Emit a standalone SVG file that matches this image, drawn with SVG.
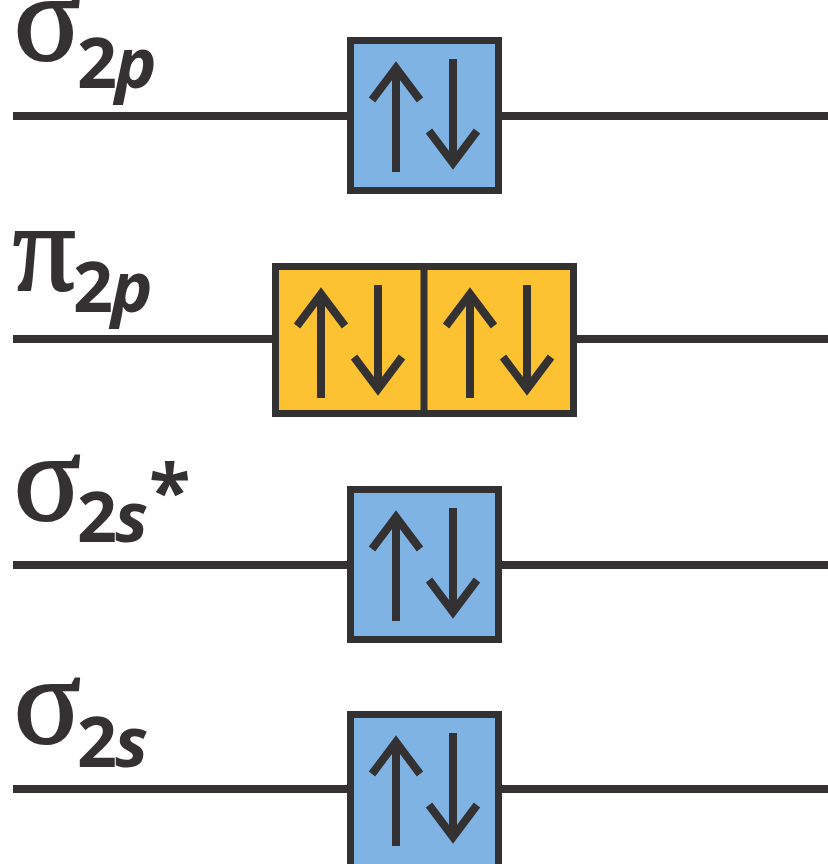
<svg xmlns="http://www.w3.org/2000/svg" xmlns:xlink="http://www.w3.org/1999/xlink" width="828" height="864" viewBox="0 0 828 864">
  <style>
    .level { stroke: #343132; stroke-width: 8; }
    .box { stroke: #343132; stroke-width: 7; }
    .sigma { fill: #7fb3e4; }
    .pi { fill: #fdc231; }
    .spin { fill: none; stroke: #343132; stroke-width: 8; stroke-linejoin: miter; stroke-miterlimit: 10; }
    .greek { font-family: "Liberation Serif", "DejaVu Serif", serif; font-size: 124px; fill: #343132; stroke: #343132; stroke-width: 2.2px; }
    .sub { font-family: "Open Sans", "Liberation Sans", sans-serif; font-weight: bold; font-size: 70px; letter-spacing: -2px; fill: #343132; }
    .it { font-style: italic; }
  </style>
  <defs>
    <!-- one paired orbital: spin-up and spin-down arrows, local to the box corner -->
    <g id="pair">
      <path class="spin" d="M49,135 V31 M25,63 L49,31 L73,63"/>
      <path class="spin" d="M106,22 V126 M82,94 L106,126 L130,94"/>
    </g>
  </defs>

  <!-- energy levels -->
  <g id="connectors">
    <line class="level" x1="13" y1="116" x2="828" y2="116"/>
    <line class="level" x1="13" y1="339" x2="828" y2="339"/>
    <line class="level" x1="13" y1="565" x2="828" y2="565"/>
    <line class="level" x1="13" y1="789" x2="828" y2="789"/>
  </g>

  <g id="sigma2p">
    <rect class="box sigma" x="350.5" y="40.5" width="148" height="150"/>
    <use xlink:href="#pair" x="347" y="37"/>
    <text class="greek" x="14" y="60">σ</text>
    <text class="sub" x="77" y="88">2<tspan class="it">p</tspan></text>
  </g>

  <g id="pi2p">
    <rect class="box pi" x="275.5" y="266.5" width="298" height="147"/>
    <line class="box" x1="424" y1="266.5" x2="424" y2="413.5"/>
    <use xlink:href="#pair" x="272" y="263"/>
    <use xlink:href="#pair" x="421" y="263"/>
    <text class="greek" x="13" y="290">π</text>
    <text class="sub" x="73" y="312">2<tspan class="it">p</tspan></text>
  </g>

  <g id="sigma2s-star">
    <rect class="box sigma" x="350.5" y="489.5" width="148" height="150"/>
    <use xlink:href="#pair" x="347" y="486"/>
    <text class="greek" x="14" y="520">σ</text>
    <text class="sub" x="77" y="542">2<tspan class="it">s</tspan></text>
    <text class="sub" x="149" y="518" style="font-size:76px">*</text>
  </g>

  <g id="sigma2s">
    <rect class="box sigma" x="350.5" y="714.5" width="148" height="160"/>
    <use xlink:href="#pair" x="347" y="711"/>
    <text class="greek" x="14" y="743">σ</text>
    <text class="sub" x="77" y="767">2<tspan class="it">s</tspan></text>
  </g>
</svg>
